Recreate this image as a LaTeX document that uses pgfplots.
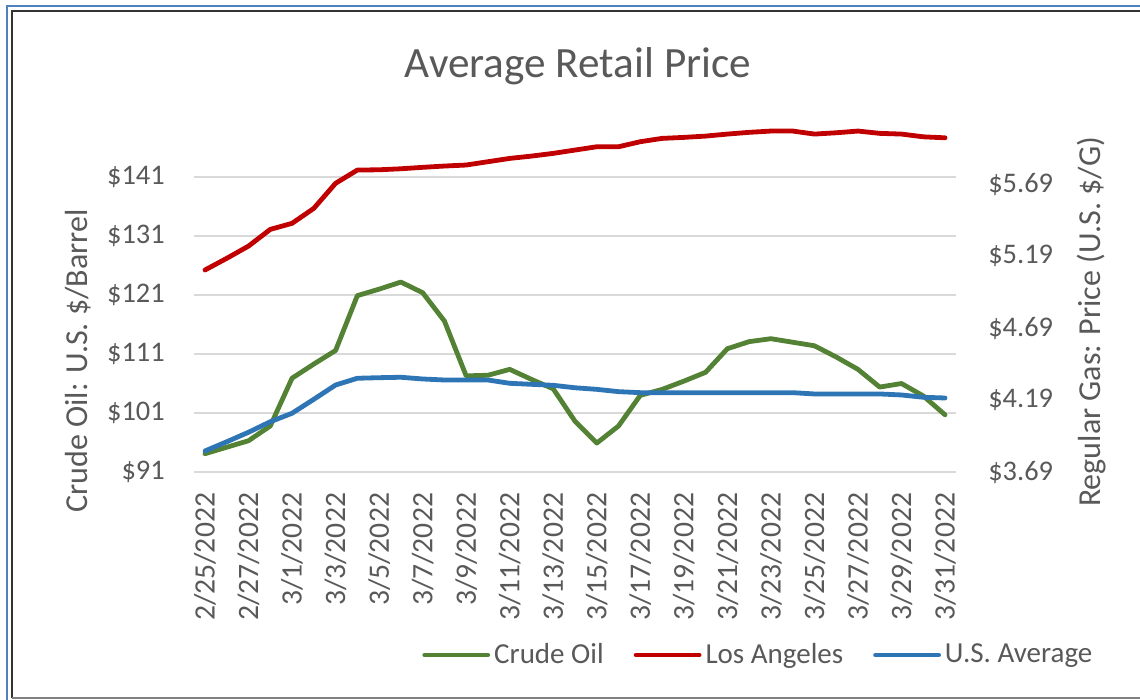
\documentclass[border=0pt]{standalone}
\usepackage{fontspec}
\setmainfont{Carlito}
\usepackage{pgfplots}
\usepackage{pgfplotstable}
\pgfplotsset{compat=1.18}
\definecolor{oilgreen}{RGB}{84,130,53}
\definecolor{lared}{RGB}{192,0,0}
\definecolor{usblue}{RGB}{46,117,182}
\definecolor{txtgray}{RGB}{89,89,89}
\definecolor{gridgray}{RGB}{217,217,217}
\definecolor{frameblue}{RGB}{79,129,189}

% day index 0 = 2/25/2022 ... 34 = 3/31/2022
\pgfplotstableread{
day oil   la    us
0   94.1  5.093 3.836
1   95.2  5.174 3.900
2   96.3  5.259 3.966
3   98.8  5.375 4.039
4   106.9 5.417 4.098
5   109.3 5.521 4.195
6   111.6 5.695 4.294
7   120.9 5.787 4.341
8   122.0 5.789 4.345
9   123.2 5.796 4.348
10  121.4 5.806 4.336
11  116.6 5.815 4.329
12  107.3 5.822 4.329
13  107.4 5.845 4.329
14  108.4 5.868 4.306
15  106.7 5.884 4.299
16  105.1 5.903 4.292
17  99.6  5.926 4.275
18  95.9  5.949 4.264
19  98.8  5.949 4.248
20  104.0 5.984 4.241
21  105.0 6.007 4.241
22  106.4 6.014 4.241
23  107.9 6.023 4.241
24  111.9 6.037 4.241
25  113.1 6.049 4.241
26  113.6 6.058 4.241
27  113.0 6.058 4.241
28  112.4 6.037 4.232
29  110.5 6.046 4.232
30  108.4 6.058 4.232
31  105.4 6.042 4.232
32  106.0 6.037 4.225
33  103.9 6.018 4.209
34  100.7 6.011 4.204
}\pricedata

\pgfplotsset{
  common/.style={
    at={(97.05pt,114pt)}, anchor=south west,
    scale only axis, width=380.9pt, height=174pt,
    xmin=-0.5, xmax=34.5,
    axis line style={draw=none},
    major tick length=0pt,
    /pgf/number format/assume math mode=true,
    tick label style={font=\fontsize{14.2}{17}\selectfont, text=txtgray},
    label style={font=\fontsize{16}{19}\selectfont, text=txtgray},
  },
  series/.style={line width=2.4pt, line join=round, line cap=round},
}

\begin{document}
\begin{tikzpicture}
\path[use as bounding box] (0,0) rectangle (570pt,350pt);
\fill[white] (0,0) rectangle (570pt,350pt);
\draw[frameblue, line width=1.1pt] (3.5pt,0) -- (3.5pt,347pt) -- (570pt,347pt);
\draw[black!80, line width=1pt] (6pt,0.8pt) -- (6pt,344.5pt) -- (570pt,344.5pt);
\draw[gray, line width=1pt] (6pt,0.8pt) -- (570pt,0.8pt);

\node[anchor=base, text=txtgray, font=\fontsize{21.6}{26}\selectfont] at (289pt,311pt) {Average Retail Price};

\begin{axis}[
  common,
  ymin=91, ymax=150,
  ytick={91,101,111,121,131,141},
  yticklabels={\$91,\$101,\$111,\$121,\$131,\$141},
  ytick pos=left, xtick pos=bottom,
  ymajorgrids, grid style={gridgray, line width=1pt},
  xtick={0,2,...,34},
  xticklabels={2/25/2022,2/27/2022,3/1/2022,3/3/2022,3/5/2022,3/7/2022,3/9/2022,3/11/2022,3/13/2022,3/15/2022,3/17/2022,3/19/2022,3/21/2022,3/23/2022,3/25/2022,3/27/2022,3/29/2022,3/31/2022},
  xticklabel style={rotate=90, anchor=east, inner sep=0pt, xshift=-10.3pt, font=\fontsize{14.8}{17}\selectfont},
  yticklabel style={anchor=east, inner sep=0pt, xshift=-14.5pt},
  ylabel={Crude Oil: U.S. \$/Barrel},
  ylabel style={at={(axis description cs:-0.1524,0.319)}, anchor=center},
]
\addplot[series, oilgreen] table[x=day, y=oil] {\pricedata};
\end{axis}

\begin{axis}[
  common,
  ymin=3.69, ymax=6.107,
  axis x line=none,
  axis y line*=right,
  ytick={3.69,4.19,4.69,5.19,5.69},
  yticklabels={\$3.69,\$4.19,\$4.69,\$5.19,\$5.69},
  yticklabel style={anchor=west, inner sep=0pt, xshift=16pt},
  ylabel={Regular Gas: Price (U.S. \$/G)},
  ylabel style={at={(axis description cs:1.1787,0.431)}, anchor=center},
  legend style={at={(0.742,-0.526)}, anchor=center, draw=none, fill=none,
    font=\fontsize{14.5}{17}\selectfont, text=txtgray,
    /tikz/every even column/.append style={column sep=13pt},
    legend cell align=left},
  legend columns=3,
  legend image code/.code={\draw[#1] (0pt,0pt) -- (31.5pt,0pt);},
]
\addlegendimage{series, oilgreen}
\addlegendentry{Crude Oil}
\addplot[series, lared] table[x=day, y=la] {\pricedata};
\addlegendentry{Los Angeles}
\addplot[series, usblue] table[x=day, y=us] {\pricedata};
\addlegendentry{U.S. Average}
\end{axis}
\end{tikzpicture}
\end{document}
